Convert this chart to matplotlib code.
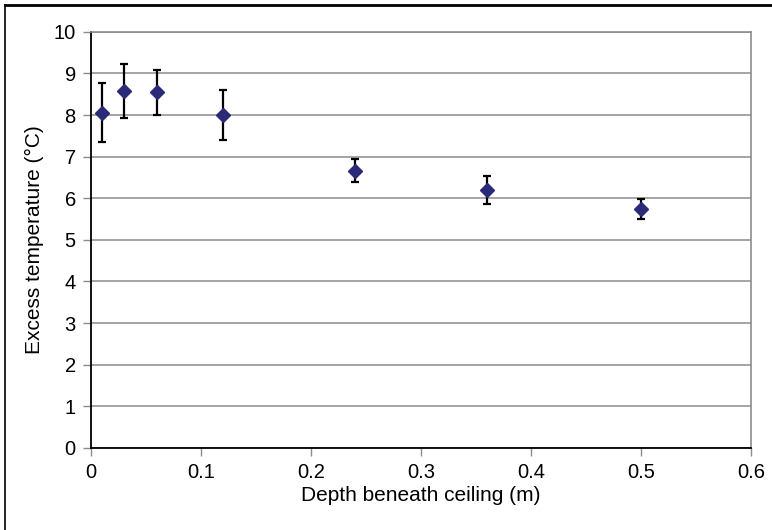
import matplotlib
matplotlib.use("Agg")
import matplotlib.pyplot as plt
from matplotlib.lines import Line2D

plt.rcParams['font.family'] = ['Liberation Sans', 'DejaVu Sans']

# measured excess temperature vs depth beneath ceiling
depth = [0.01, 0.03, 0.06, 0.12, 0.24, 0.36, 0.50]
temp = [8.06, 8.57, 8.55, 8.00, 6.66, 6.20, 5.74]
err = [0.70, 0.65, 0.54, 0.60, 0.28, 0.34, 0.25]

xticks = [0, 0.1, 0.2, 0.3, 0.4, 0.5, 0.6]
yticks = list(range(0, 11))

fig = plt.figure(figsize=(7.72, 5.30), dpi=100)
ax = fig.add_axes([0.118, 0.155, 0.855, 0.785])

ax.errorbar(depth, temp, yerr=err, fmt='D', color='#2b2a78', markersize=7.5,
            ecolor='black', elinewidth=1.6, capsize=3.2, capthick=1.6, zorder=3)

ax.set_xlim(0, 0.6)
ax.set_ylim(0, 10)
ax.set_xticks(xticks)
ax.set_xticklabels(['0', '0.1', '0.2', '0.3', '0.4', '0.5', '0.6'])
ax.set_yticks(yticks)
ax.yaxis.grid(True, color='#8c8c8c', linewidth=1.1)
ax.set_axisbelow(True)

for s in ['top', 'right']:
    ax.spines[s].set_color('#8c8c8c')
    ax.spines[s].set_linewidth(1.2)
for s in ['left', 'bottom']:
    ax.spines[s].set_color('black')
    ax.spines[s].set_linewidth(1.3)

ax.tick_params(axis='both', direction='out', length=6, width=1,
               color='#8c8c8c', labelsize=14.5, pad=5)

ax.set_xlabel('Depth beneath ceiling (m)', fontsize=15, labelpad=3)
ax.set_ylabel('Excess temperature (°C)', fontsize=15, labelpad=7)

# frame lines along the top and left of the figure
fig.add_artist(Line2D([0.006, 1.0], [0.991, 0.991], transform=fig.transFigure,
                      color='black', linewidth=2))
fig.add_artist(Line2D([0.006, 0.006], [0.0, 0.991], transform=fig.transFigure,
                      color='black', linewidth=1.2))

fig.savefig('out.png', dpi=100)
